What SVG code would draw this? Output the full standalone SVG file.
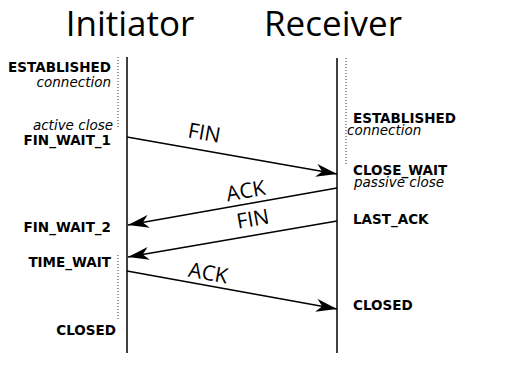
<svg xmlns="http://www.w3.org/2000/svg" width="506" height="368" viewBox="0 0 506 368">
  <style>
    .title { font-family: "Open Sans", "DejaVu Sans", sans-serif; font-size: 35px; fill: #000; }
    .state { font-family: "DejaVu Sans", "Liberation Sans", sans-serif; font-size: 13.5px; font-weight: bold; fill: #000; }
    .note { font-family: "DejaVu Sans", "Liberation Sans", sans-serif; font-size: 13.5px; font-style: italic; fill: #000; }
    .msg { font-family: "Open Sans", "DejaVu Sans", sans-serif; font-size: 21px; fill: #000; text-anchor: middle; }
    .life { stroke: #000; stroke-width: 1.5; fill: none; }
    .dots { stroke: #555; stroke-width: 1.2; stroke-dasharray: 1 2; fill: none; }
    .arrow { stroke: #000; stroke-width: 1.5; fill: none; marker-end: url(#head); }
    .r { text-anchor: end; }
  </style>
  <defs>
    <marker id="head" viewBox="0 0 21 13" refX="21" refY="6.5" markerWidth="21" markerHeight="13" markerUnits="userSpaceOnUse" orient="auto">
      <path d="M21,6.5 L0,0 L6,6.5 L0,13 Z" fill="#000"/>
    </marker>
  </defs>
  <rect width="506" height="368" fill="#fff"/>

  <!-- column headings with their lifelines -->
  <g id="initiator">
    <text class="title" x="130" y="36" text-anchor="middle">Initiator</text>
    <line class="life" x1="127" y1="57" x2="127" y2="353"/>
  </g>
  <g id="receiver">
    <text class="title" x="333" y="36" text-anchor="middle">Receiver</text>
    <line class="life" x1="337" y1="58" x2="337" y2="353"/>
  </g>

  <!-- initiator states -->
  <g id="init-established">
    <line class="dots" x1="118" y1="57" x2="118" y2="129"/>
    <text class="state r" x="111" y="72">ESTABLISHED</text>
    <text class="note r" x="111" y="87">connection</text>
  </g>
  <g id="init-fin-wait-1">
    <text class="note r" x="113" y="130">active close</text>
    <text class="state r" x="111" y="145">FIN_WAIT_1</text>
  </g>
  <g id="init-fin-wait-2">
    <text class="state r" x="111" y="232">FIN_WAIT_2</text>
  </g>
  <g id="init-time-wait">
    <text class="state r" x="111" y="267">TIME_WAIT</text>
    <line class="dots" x1="118" y1="255" x2="118" y2="320"/>
  </g>
  <g id="init-closed">
    <text class="state r" x="116" y="335">CLOSED</text>
  </g>

  <!-- receiver states -->
  <g id="recv-established">
    <line class="dots" x1="346" y1="58" x2="346" y2="164"/>
    <text class="state" x="353" y="123">ESTABLISHED</text>
    <text class="note" x="347" y="135">connection</text>
  </g>
  <g id="recv-close-wait">
    <text class="state" x="353" y="175">CLOSE_WAIT</text>
    <text class="note" x="354" y="187">passive close</text>
  </g>
  <g id="recv-last-ack">
    <text class="state" x="353" y="224">LAST_ACK</text>
  </g>
  <g id="recv-closed">
    <text class="state" x="353" y="310">CLOSED</text>
  </g>

  <!-- messages -->
  <g id="connectors">
    <line class="arrow" x1="127" y1="137" x2="337" y2="174"/>
    <text class="msg" x="203" y="140" transform="rotate(10 203 140)">FIN</text>

    <line class="arrow" x1="337" y1="188" x2="128" y2="225"/>
    <text class="msg" x="247" y="198" transform="rotate(-10 247 198)">ACK</text>

    <line class="arrow" x1="337" y1="221" x2="128" y2="257"/>
    <text class="msg" x="254" y="226" transform="rotate(-10 254 226)">FIN</text>

    <line class="arrow" x1="127" y1="271" x2="337" y2="309"/>
    <text class="msg" x="207" y="280" transform="rotate(10 207 280)">ACK</text>
  </g>
</svg>
